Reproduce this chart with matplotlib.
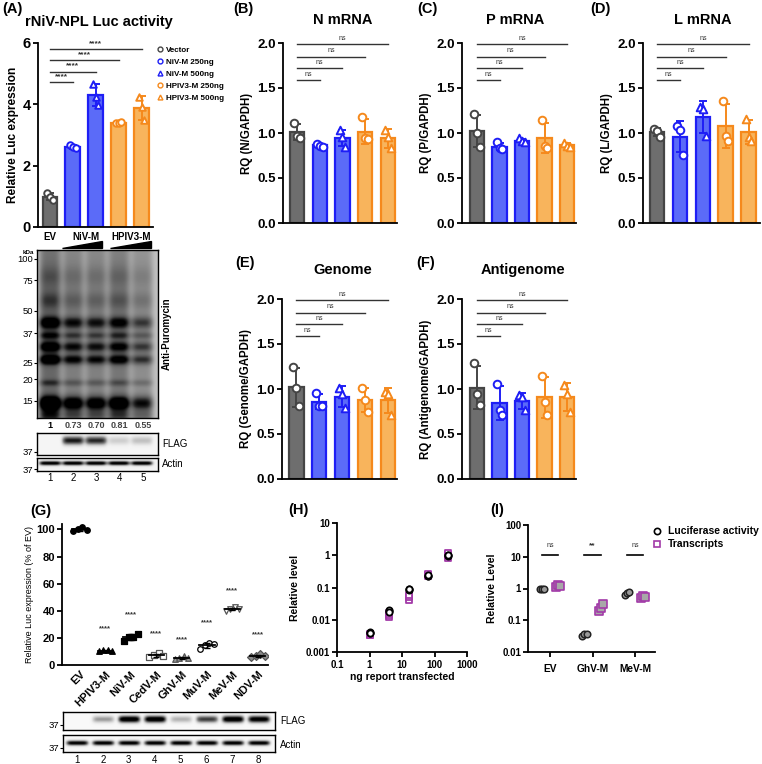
import numpy as np
import matplotlib
matplotlib.use('Agg')
import matplotlib.pyplot as plt
from matplotlib.lines import Line2D
from matplotlib.patches import Polygon

plt.rcParams['font.family'] = ['Liberation Sans', 'DejaVu Sans']

# ---------------- data ----------------
groups = ['Vector', 'NiV-M 250ng', 'NiV-M 500ng', 'HPIV3-M 250ng', 'HPIV3-M 500ng']
a_pts = [[1.11, 0.98, 0.88], [2.67, 2.60, 2.56], [4.67, 4.25, 3.98], [3.40, 3.38, 3.44], [4.25, 3.90, 3.49]]
a_sig_y = [4.72, 5.07, 5.43, 5.80]

b_pts = [[1.11, 0.97, 0.95], [0.88, 0.86, 0.85], [1.03, 0.96, 0.85], [1.18, 0.94, 0.93], [1.03, 0.96, 0.83]]
c_pts = [[1.21, 1.00, 0.85], [0.90, 0.83, 0.82], [0.94, 0.91, 0.90], [1.14, 0.86, 0.83], [0.89, 0.86, 0.85]]
d_pts = [[1.05, 1.02, 0.96], [1.08, 1.03, 0.76], [1.29, 1.27, 0.97], [1.36, 0.97, 0.91], [1.16, 0.96, 0.91]]
e_pts = [[1.24, 1.01, 0.81], [0.96, 0.81, 0.81], [1.01, 0.95, 0.79], [1.01, 0.88, 0.75], [0.97, 0.94, 0.71]]
f_pts = [[1.29, 0.94, 0.82], [1.06, 0.77, 0.71], [0.93, 0.91, 0.77], [1.15, 0.86, 0.71], [1.04, 0.95, 0.74]]
ns_y = [1.59, 1.72, 1.85, 1.99]

blot_a_quant = [1, 0.73, 0.70, 0.81, 0.55]
blot_a_quant_txt = ['1', '0.73', '0.70', '0.81', '0.55']
blot_a_flag = [0.0, 0.85, 0.80, 0.22, 0.28]
kda_marks = [100, 75, 50, 37, 25, 20, 15]

g_cats = ['EV', 'HPIV3-M', 'NiV-M', 'CedV-M', 'GhV-M', 'MuV-M', 'MeV-M', 'NDV-M']
g_vals = [[99.0, 100.5, 101.5, 99.8], [10.2, 10.8, 11.0, 10.5], [18.0, 20.5, 21.0, 23.0],
          [6.0, 7.5, 8.5, 7.0], [4.5, 5.5, 6.5, 5.0], [12.0, 14.5, 16.0, 15.5],
          [40.0, 41.0, 42.5, 41.5], [6.0, 7.0, 7.8, 6.5]]
g_sig_y = [None, 27, 37, 23, 19, 31, 55, 22]
g_flag = [0.0, 0.40, 1.0, 1.0, 0.33, 0.70, 1.0, 0.95]

h_ng = [1, 4, 16, 64, 256]
h_luc = [[0.0040, 0.0042, 0.0038], [0.019, 0.020, 0.018], [0.085, 0.088, 0.090], [0.22, 0.23, 0.24], [0.95, 1.0, 1.05]]
h_tx = [[0.0033, 0.0035, 0.0034], [0.012, 0.014, 0.016], [0.040, 0.050, 0.060], [0.22, 0.25, 0.27], [0.85, 1.0, 1.15]]

i_cats = ['EV', 'GhV-M', 'MeV-M']
i_luc = [[0.95, 1.0, 0.98], [0.032, 0.036, 0.038], [0.62, 0.72, 0.78]]
i_tx = [[1.1, 1.3, 1.2], [0.20, 0.25, 0.33], [0.50, 0.60, 0.55]]
i_sig = ['ns', '**', 'ns']

# ---------------- style ----------------
FACE = ['#6e6e6e', '#5b6bf8', '#5b6bf8', '#f8b45c', '#f8b45c']
EDGE = ['#454545', '#1e1ef5', '#1e1ef5', '#f5891c', '#f5891c']
MK = ['o', 'o', '^', 'o', '^']
PURPLE = '#a23aa8'

W, H = 762, 764
fig = plt.figure(figsize=(W / 100, H / 100), dpi=100)


def add_ax(l, t, r, b):
    return fig.add_axes([l / W, 1 - b / H, (r - l) / W, (b - t) / H])


ov = add_ax(0, 0, W, H)
ov.set_xlim(0, W)
ov.set_ylim(H, 0)
ov.axis('off')


def style_ax(ax, fs=9.5):
    for s in ['top', 'right']:
        ax.spines[s].set_visible(False)
    for s in ['left', 'bottom']:
        ax.spines[s].set_linewidth(1.3)
    ax.tick_params(axis='y', width=1.3, length=3.5, labelsize=fs, pad=1.5)
    for lab in ax.get_yticklabels():
        lab.set_fontweight('bold')


def bar_panel(ax, pts, ylabel, ylim=(0, 2.0), yticks=(0, 0.5, 1.0, 1.5, 2.0), yfmt='{:.1f}',
              sig_y=ns_y, sig_txt='ns', sig_fs=5, sig_w='normal', ms=30, xlim=(-0.62, 4.4),
              tfs=9.5, lfs=8.3):
    for i, p in enumerate(pts):
        m = np.mean(p)
        sd = np.std(p, ddof=1)
        ax.bar(i, m, width=0.64, color=FACE[i], edgecolor=EDGE[i], linewidth=1.6, zorder=2)
        ax.errorbar(i, m, yerr=sd, color=EDGE[i], capsize=3, capthick=1.4, elinewidth=1.4, zorder=3)
        offs = np.array([-0.12, 0.0, 0.12])
        ax.scatter(i + offs, p, marker=MK[i], s=ms, facecolor='white', edgecolor=EDGE[i],
                   linewidth=1.4, zorder=4)
    for j, y in enumerate(sig_y):
        ax.plot([0, j + 1], [y, y], color='#333333', lw=1.0, clip_on=False)
        ax.text((j + 1) / 2, y + (ylim[1] - ylim[0]) * 0.012, sig_txt, ha='center', va='bottom',
                fontsize=sig_fs, fontweight=sig_w, color='#333333')
    ax.set_xlim(*xlim)
    ax.set_ylim(*ylim)
    ax.set_yticks(yticks)
    ax.set_yticklabels([yfmt.format(t) for t in yticks])
    ax.set_xticks([])
    ax.set_ylabel(ylabel, fontsize=lfs, fontweight='bold', labelpad=3)
    style_ax(ax, fs=tfs)


# ---------------- Panel A ----------------
axA = add_ax(38, 43, 153, 227)
bar_panel(axA, a_pts, 'Relative Luc expression', ylim=(0, 6), yticks=(0, 2, 4, 6), yfmt='{:d}',
          sig_y=a_sig_y, sig_txt='****', sig_fs=6, sig_w='bold', ms=22, xlim=(-0.52, 4.5),
          tfs=10.5, lfs=8.6)
ov.text(2, 9, '(A)', fontsize=10.5, fontweight='bold', va='center')
ov.text(25, 22, 'rNiV-NPL Luc activity', fontsize=10.5, fontweight='bold', va='center')
handles = [Line2D([], [], marker=MK[i], ls='none', markerfacecolor='white', markeredgecolor=EDGE[i],
                  markersize=3.5, markeredgewidth=1.0) for i in range(5)]
leg = fig.legend(handles, groups, loc='upper left', bbox_to_anchor=(153 / W, 1 - 43 / H), frameon=False,
                 prop={'weight': 'bold', 'size': 5.8}, handletextpad=0.2, handlelength=1.0,
                 labelspacing=0.55, borderaxespad=0)


def draw_blot(ax, quant, bands, xlim, ylim, lane_w=0.85, bg=0.06, nx=300, ny=200, sharp=6):
    xs = np.linspace(xlim[0], xlim[1], nx)
    ys = np.linspace(ylim[0], ylim[1], ny)
    img = np.full((ny, nx), bg)
    for i, q in enumerate(quant):
        prof = np.exp(-np.abs((xs - i) / (lane_w / 2)) ** sharp)
        col = np.zeros(ny)
        for (yc, sig, amp) in bands:
            col += amp * np.exp(-((ys - yc) / sig) ** 2)
        img += q * np.outer(col, prof)
    img = np.clip(img, 0, 1)
    ax.imshow(img, extent=(xlim[0], xlim[1], ylim[0], ylim[1]), origin='lower', aspect='auto',
              cmap='Greys', vmin=0, vmax=1, interpolation='bilinear')
    ax.set_xlim(*xlim)
    ax.set_ylim(*ylim)
    ax.set_xticks([])
    for s in ax.spines.values():
        s.set_linewidth(1.0)
    ax.tick_params(axis='y', length=2.5, width=0.8, labelsize=6.8, pad=0.5)


# blot A (y axis in log10 kDa)
axBlot = add_ax(37, 250, 158, 418)
ylim_bl = (1.077, 2.052)
bands_main = [(1.55, 1.2, 0.32), (1.90, 0.06, 0.12), (1.76, 0.05, 0.18), (1.63, 0.035, 0.55),
              (1.556, 0.022, 0.35), (1.49, 0.03, 0.55), (1.415, 0.028, 0.60), (1.28, 0.02, 0.22),
              (1.16, 0.04, 0.85), (1.09, 0.03, 0.3)]
draw_blot(axBlot, blot_a_quant, bands_main, (-0.57, 4.7), ylim_bl, bg=0.36, lane_w=0.95, sharp=4)
axBlot.set_yticks(np.log10(kda_marks))
axBlot.set_yticklabels([str(k) for k in kda_marks])
ov.text(28, 252, 'kDa', fontsize=4.5, fontweight='bold', ha='center', va='center')
ov.text(167, 334, 'Anti-Puromycin', fontsize=7, fontweight='bold', rotation=90, ha='center', va='center')
for i, t in enumerate(blot_a_quant_txt):
    ov.text(50 + 23.2 * i, 426, t, fontsize=6.5, fontweight='bold', ha='center', va='center',
            color='black' if i == 0 else '#444444')
ov.text(50, 237, 'EV', fontsize=7, fontweight='bold', ha='center', va='center')
ov.text(86, 237, 'NiV-M', fontsize=7, fontweight='bold', ha='center', va='center')
ov.text(131, 237, 'HPIV3-M', fontsize=7, fontweight='bold', ha='center', va='center')
ov.add_patch(Polygon([[62, 248], [102, 248], [102, 241]], closed=True, color='black'))
ov.add_patch(Polygon([[110, 248], [151, 248], [151, 241]], closed=True, color='black'))

axFlagA = add_ax(37, 433, 158, 455)
draw_blot(axFlagA, blot_a_flag, [(0.66, 0.2, 1.0)], (-0.57, 4.7), (0, 1), bg=0.08, lane_w=0.95)
axFlagA.set_yticks([0.14])
axFlagA.set_yticklabels(['37'])
ov.text(162, 444, 'FLAG', fontsize=7, va='center')

axActA = add_ax(37, 458, 158, 471)
draw_blot(axActA, [1.0] * 5, [(0.6, 0.17, 1.0)], (-0.57, 4.7), (0, 1), bg=0.1, lane_w=0.95)
axActA.set_yticks([0.15])
axActA.set_yticklabels(['37'])
ov.text(162, 464, 'Actin', fontsize=7, va='center')
for i in range(5):
    ov.text(50 + 23.2 * i, 478, str(i + 1), fontsize=7, ha='center', va='center')

# ---------------- Panels B-F ----------------
axB = add_ax(283, 43, 397, 223)
bar_panel(axB, b_pts, 'RQ (N/GAPDH)')
axC = add_ax(462, 43, 576, 223)
bar_panel(axC, c_pts, 'RQ (P/GAPDH)', xlim=(-0.67, 4.4))
axD = add_ax(643, 43, 760, 223)
bar_panel(axD, d_pts, 'RQ (L/GAPDH)', xlim=(-0.62, 4.5))
axE = add_ax(282, 299, 397, 479)
bar_panel(axE, e_pts, 'RQ (Genome/GAPDH)')
axF = add_ax(462, 299, 576, 479)
bar_panel(axF, f_pts, 'RQ (Antigenome/GAPDH)', xlim=(-0.67, 4.4))

for lab, x, y in [('(B)', 233, 9), ('(C)', 417, 9), ('(D)', 590, 9), ('(E)', 235, 263), ('(F)', 416, 263)]:
    ov.text(x, y, lab, fontsize=10.5, fontweight='bold', va='center')
for lab, x, y in [('N mRNA', 343, 20), ('P mRNA', 515, 20), ('L mRNA', 703, 20),
                  ('Genome', 343, 270), ('Antigenome', 523, 270)]:
    ov.text(x, y, lab, fontsize=10.5, fontweight='bold', ha='center', va='center')

# ---------------- Panel G ----------------
axG = add_ax(62, 524, 268, 665)
g_markers = ['o', '^', 's', 's', '^', 'o', 'v', 'D']
g_face = ['black', 'black', 'black', 'white', '#9a9a9a', 'white', 'white', '#8a8a8a']
g_edge = ['black', 'black', 'black', '#555555', '#555555', 'black', '#555555', '#555555']
offs = np.array([-0.27, -0.09, 0.09, 0.27])
for i, v in enumerate(g_vals):
    m = np.mean(v)
    sd = np.std(v, ddof=1)
    axG.scatter(i + offs, v, marker=g_markers[i], s=16, facecolor=g_face[i], edgecolor=g_edge[i],
                linewidth=0.9, zorder=3)
    axG.plot([i - 0.3, i + 0.3], [m, m], color='black', lw=1.3, zorder=4)
    axG.errorbar(i, m, yerr=sd, color='black', capsize=2, elinewidth=1, capthick=1, zorder=4)
    if g_sig_y[i] is not None:
        axG.text(i, g_sig_y[i], '****', ha='center', va='center', fontsize=5.5, fontweight='bold',
                 color='#333333')
axG.set_xlim(-0.71, 7.4)
axG.set_ylim(0, 104)
axG.set_yticks([0, 20, 40, 60, 80, 100])
axG.set_xticks(range(8))
axG.set_xticklabels(g_cats, rotation=45, ha='right', rotation_mode='anchor', fontsize=8,
                    fontweight='bold')
axG.tick_params(axis='x', length=0, pad=3)
axG.set_ylabel('Relative Luc expression (% of EV)', fontsize=6.5, labelpad=2)
style_ax(axG, fs=8)
ov.text(30, 511, '(G)', fontsize=10.5, fontweight='bold', va='center')

axFlagG = add_ax(63, 712, 275, 730)
draw_blot(axFlagG, g_flag, [(0.6, 0.2, 1.1)], (-0.54, 7.64), (0, 1), lane_w=0.85, bg=0.05)
axFlagG.set_yticks([0.28])
axFlagG.set_yticklabels(['37'])
ov.text(280, 721, 'FLAG', fontsize=7, va='center')
axActG = add_ax(63, 735, 275, 752)
draw_blot(axActG, [1.0] * 8, [(0.53, 0.15, 1.0)], (-0.54, 7.64), (0, 1), lane_w=0.85, bg=0.06)
axActG.set_yticks([0.24])
axActG.set_yticklabels(['37'])
ov.text(280, 745, 'Actin', fontsize=7, va='center')
for i in range(8):
    ov.text(77 + 25.9 * i, 760, str(i + 1), fontsize=7, ha='center', va='center')

# ---------------- Panel H ----------------
axH = add_ax(337, 523, 467, 652)
for k, x in enumerate(h_ng):
    axH.scatter([x] * len(h_tx[k]), h_tx[k], marker='s', s=22, facecolor='white', edgecolor=PURPLE,
                linewidth=1.3, zorder=3)
    axH.scatter([x] * len(h_luc[k]), h_luc[k], marker='o', s=20, facecolor='white', edgecolor='black',
                linewidth=1.3, zorder=4)
axH.set_xscale('log')
axH.set_yscale('log')
axH.set_xlim(0.1, 1000)
axH.set_ylim(0.001, 10)
axH.set_xticks([0.1, 1, 10, 100, 1000])
axH.set_xticklabels(['0.1', '1', '10', '100', '1000'])
axH.set_yticks([0.001, 0.01, 0.1, 1, 10])
axH.set_yticklabels(['0.001', '0.01', '0.1', '1', '10'])
axH.minorticks_off()
axH.tick_params(axis='x', width=1.3, length=3.5, labelsize=7, pad=2)
style_ax(axH, fs=7)
for lab in axH.get_xticklabels():
    lab.set_fontweight('bold')
axH.set_xlabel('ng report transfected', fontsize=7.5, fontweight='bold', labelpad=2)
axH.set_ylabel('Relative level', fontsize=7.5, fontweight='bold', labelpad=4)
ov.text(288, 510, '(H)', fontsize=10.5, fontweight='bold', va='center')

# ---------------- Panel I ----------------
axI = add_ax(528, 525, 655, 652)
jit = np.array([-0.05, 0.0, 0.05])
for i in range(3):
    axI.scatter(i + 0.19 + jit, i_tx[i], marker='s', s=26, facecolor='#a8a8a8', edgecolor=PURPLE,
                linewidth=1.2, zorder=3)
    axI.scatter(i - 0.19 + jit, i_luc[i], marker='o', s=22, facecolor='#9a9a9a', edgecolor='#222222',
                linewidth=1.1, zorder=3)
    axI.plot([i - 0.19, i + 0.19], [11, 11], color='black', lw=1.2)
    axI.text(i, 17, i_sig[i], ha='center', va='bottom', fontsize=5 if i_sig[i] == 'ns' else 6,
             fontweight='normal' if i_sig[i] == 'ns' else 'bold', color='#333333')
axI.set_yscale('log')
axI.set_ylim(0.01, 100)
axI.set_xlim(-0.52, 2.47)
axI.set_yticks([0.01, 0.1, 1, 10, 100])
axI.set_yticklabels(['0.01', '0.1', '1', '10', '100'])
axI.minorticks_off()
axI.set_xticks(range(3))
axI.set_xticklabels(i_cats, fontsize=7.3, fontweight='bold')
axI.tick_params(axis='x', width=1.3, length=3.5, pad=5)
style_ax(axI, fs=7)
axI.set_ylabel('Relative Level', fontsize=7.5, fontweight='bold', labelpad=4)
ov.text(490, 510, '(I)', fontsize=10.5, fontweight='bold', va='center')
hI = [Line2D([], [], marker='o', ls='none', markerfacecolor='white', markeredgecolor='black',
             markersize=4.5, markeredgewidth=1.2),
      Line2D([], [], marker='s', ls='none', markerfacecolor='white', markeredgecolor=PURPLE,
             markersize=4.5, markeredgewidth=1.2)]
fig.legend(hI, ['Luciferase activity', 'Transcripts'], loc='upper left',
           bbox_to_anchor=(647 / W, 1 - 522 / H), frameon=False, prop={'weight': 'bold', 'size': 7.5},
           handletextpad=0.4, handlelength=1.2, labelspacing=0.3, borderaxespad=0)

fig.savefig('out.png', dpi=100)
